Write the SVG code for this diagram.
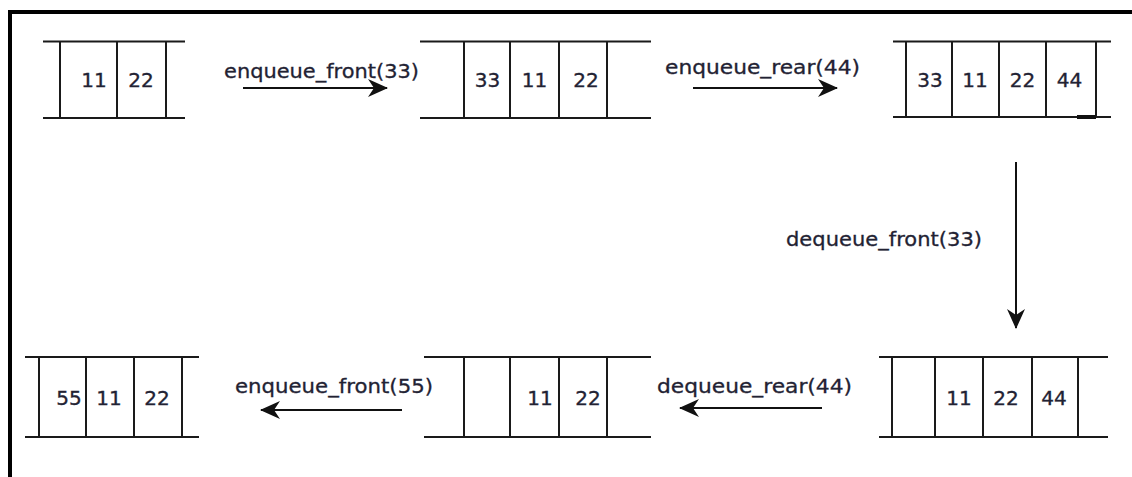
<svg xmlns="http://www.w3.org/2000/svg" width="1132" height="477" viewBox="0 0 1132 477">
  <style>
    .ln { stroke: #1a1a1a; stroke-width: 2; fill: none; }
    .num { font-family: "DejaVu Sans", Verdana, sans-serif; font-size: 20px; fill: #222233; stroke: #222233; stroke-width: 0.35; text-anchor: middle; }
    .lbl { font-family: "DejaVu Sans", Verdana, sans-serif; font-size: 20px; fill: #222233; stroke: #222233; stroke-width: 0.3; }
    .arr { stroke: #111; stroke-width: 2; fill: none; marker-end: url(#ah); }
  </style>
  <defs>
    <marker id="ah" viewBox="0 0 20 18" refX="19" refY="9" markerWidth="20" markerHeight="18" markerUnits="userSpaceOnUse" orient="auto">
      <path d="M0,0 L20,9 L0,18 L6,9 z" fill="#111"/>
    </marker>
  </defs>
  <rect width="1132" height="477" fill="#fff"/>
  <g id="frame">
    <path d="M10,477 V12 H1132" stroke="#000" stroke-width="4" fill="none"/>
  </g>

  <g id="q1">
    <path class="ln" d="M43,41.5 H185 M43,118 H185 M60,41.5 V118 M117,41.5 V118 M166,41.5 V118"/>
    <text class="num" x="94" y="87">11</text>
    <text class="num" x="141" y="87">22</text>
  </g>

  <g id="q2">
    <path class="ln" d="M420,41.5 H651 M420,118 H651 M464,41.5 V118 M510,41.5 V118 M559,41.5 V118 M607,41.5 V118"/>
    <text class="num" x="487.5" y="87">33</text>
    <text class="num" x="534.5" y="87">11</text>
    <text class="num" x="586" y="87">22</text>
  </g>

  <g id="q3">
    <path class="ln" d="M893,41.5 H1111 M893,117 H1111 M906,41.5 V117 M952,41.5 V117 M999,41.5 V117 M1046,41.5 V117 M1096,41.5 V117"/>
    <path d="M1077,117 H1096" stroke="#111" stroke-width="4"/>
    <text class="num" x="930" y="87">33</text>
    <text class="num" x="975" y="87">11</text>
    <text class="num" x="1022.5" y="87">22</text>
    <text class="num" x="1069.5" y="87">44</text>
  </g>

  <g id="q4">
    <path class="ln" d="M879,357 H1108 M879,437 H1108 M892,357 V437 M935,357 V437 M983,357 V437 M1032,357 V437 M1078,357 V437"/>
    <text class="num" x="959" y="405">11</text>
    <text class="num" x="1006" y="405">22</text>
    <text class="num" x="1054" y="405">44</text>
  </g>

  <g id="q5">
    <path class="ln" d="M424,357 H651 M424,437 H651 M464,357 V437 M510,357 V437 M559,357 V437 M607,357 V437"/>
    <text class="num" x="540" y="405">11</text>
    <text class="num" x="588" y="405">22</text>
  </g>

  <g id="q6">
    <path class="ln" d="M25,357 H199 M25,437 H199 M39,357 V437 M86,357 V437 M134,357 V437 M182,357 V437"/>
    <text class="num" x="69" y="405">55</text>
    <text class="num" x="109" y="405">11</text>
    <text class="num" x="157" y="405">22</text>
  </g>

  <g id="connectors">
    <path class="arr" d="M243,88 H387"/>
    <text class="lbl" x="224" y="78" textLength="195" lengthAdjust="spacingAndGlyphs">enqueue_front(33)</text>

    <path class="arr" d="M693,88 H837"/>
    <text class="lbl" x="665" y="74" textLength="195" lengthAdjust="spacingAndGlyphs">enqueue_rear(44)</text>

    <path class="arr" d="M1016,162 V328"/>
    <text class="lbl" x="786" y="246" textLength="196" lengthAdjust="spacingAndGlyphs">dequeue_front(33)</text>

    <path class="arr" d="M822,408 H680"/>
    <text class="lbl" x="657" y="393" textLength="195" lengthAdjust="spacingAndGlyphs">dequeue_rear(44)</text>

    <path class="arr" d="M402,410 H261"/>
    <text class="lbl" x="235" y="393" textLength="198" lengthAdjust="spacingAndGlyphs">enqueue_front(55)</text>
  </g>
</svg>
